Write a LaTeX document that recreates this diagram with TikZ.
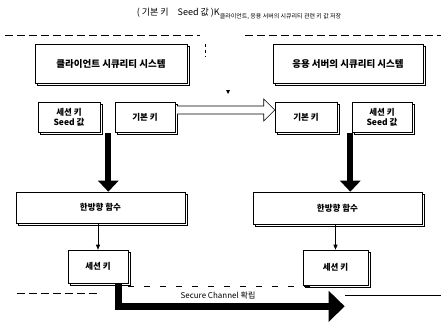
\documentclass[tikz,border=0pt]{standalone}
\usepackage{fontspec}
\setmainfont{Noto Sans CJK KR}
\usetikzlibrary{arrows.meta,shadows,calc}
\begin{document}
\begin{tikzpicture}[x=1pt,y=-1pt,
  box/.style={draw, fill=white, line width=0.6pt, inner sep=0pt, align=center,
    font=\fontsize{8.5}{10}\selectfont\bfseries,
    drop shadow={shadow xshift=1.8pt, shadow yshift=-1.8pt, fill=none, draw=black, opacity=1, line width=0.6pt}},
  fat/.style={line width=6pt, -{Triangle[length=11pt,width=20pt]}},
  fatb/.style={line width=7pt, -{Triangle[length=16pt,width=30pt]}},
  thin/.style={line width=0.6pt, -{Triangle[length=5pt,width=4pt]}},
  dline/.style={dashed, line width=0.6pt, dash pattern=on 8pt off 4pt}]
\useasboundingbox (0,0) rectangle (441,322);

% title
\node[font=\fontsize{9}{10}\selectfont, inner sep=0pt] (title) at (239,14)
  {( 기본 키\quad Seed 값 )K\raisebox{-2.5pt}{\fontsize{6}{7}\selectfont 클라이언트, 응용 서버의 시큐리티 관련 키 값 저장}};

% top dashed lines
\draw[dline] (5,35) -- (200,35);
\draw[dline] (245,35) -- (441,35);
\draw[dashed, line width=0.6pt] (205,44) -- (205,57);

% system boxes
\node[box, font=\fontsize{9.5}{11}\selectfont\bfseries, minimum width=152pt, minimum height=39pt] (Lsys) at (111,63.5) {클라이언트 시큐리티 시스템};
\node[box, font=\fontsize{9.5}{11}\selectfont\bfseries, minimum width=150pt, minimum height=39pt] (Rsys) at (348,63.5) {응용 서버의 시큐리티 시스템};

% key boxes
\node[box, minimum width=62pt, minimum height=30pt] (Ls) at (69,117) {세션 키\\Seed 값};
\node[box, minimum width=60pt, minimum height=30pt] (Lk) at (145,117) {기본 키};
\node[box, minimum width=62pt, minimum height=30pt] (Rk) at (306,117) {기본 키};
\node[box, minimum width=60pt, minimum height=30pt] (Rs) at (382,117) {세션 키\\Seed 값};

% one-way function boxes
\node[box, minimum width=169pt, minimum height=31pt] (Lf) at (100.5,207.5) {한방향 함수};
\node[box, minimum width=169pt, minimum height=32pt] (Rf) at (337.5,208) {한방향 함수};

% session key boxes
\node[box, minimum width=60pt, minimum height=33pt] (Lsk) at (98,266.5) {세션 키};
\node[box, minimum width=65pt, minimum height=35pt] (Rsk) at (335.5,267.5) {세션 키};

% hollow double arrow between the base keys
\coordinate (hs) at ($(Lk.east)+(1.8,-7)$);
\coordinate (he) at ($(Rk.west)+(0,-7)$);
\draw[line width=0.6pt, fill=white]
  ($(hs)+(0,-4)$) -- ($(he)+(-11,-4)$) -- ($(he)+(-11,-11)$) -- (he)
  -- ($(he)+(-11,11)$) -- ($(he)+(-11,4)$) -- ($(hs)+(0,4)$);
\fill (226,90) -- (230,90) -- (228,94) -- cycle;

% thick arrows down
\coordinate (t1) at ($(Ls.south east)+(8,1)$);
\draw[fat] (t1) -- (t1 |- Lf.north);
\coordinate (t2) at ($(Rk.south east)+(13,1)$);
\draw[fat] (t2) -- (t2 |- Rf.north);

% thin arrows
\draw[thin] (Lsk.north |- Lf.south) -- (Lsk.north);
\draw[thin] (Rsk.north |- Rf.south) -- (Rsk.north);

% bottom lines
\draw[dline] (17,293) -- (97,293);
\draw[dashed, line width=0.6pt, dash pattern=on 6pt off 10pt] (128,286) -- (310,286);
\draw[line width=0.6pt] (345,295) -- (441,295);

% label
\node[font=\fontsize{8}{9.5}\selectfont, inner sep=0pt] (sc) at (218,295) {Secure Channel 확립};

% bottom thick arrow
\coordinate (b0) at ($(Lsk.south east)+(-10,1)$);
\coordinate (b2) at ($(Rsk.south west)+(42,21)$);
\draw[fatb] (b0) |- (b2);
\end{tikzpicture}
\end{document}
